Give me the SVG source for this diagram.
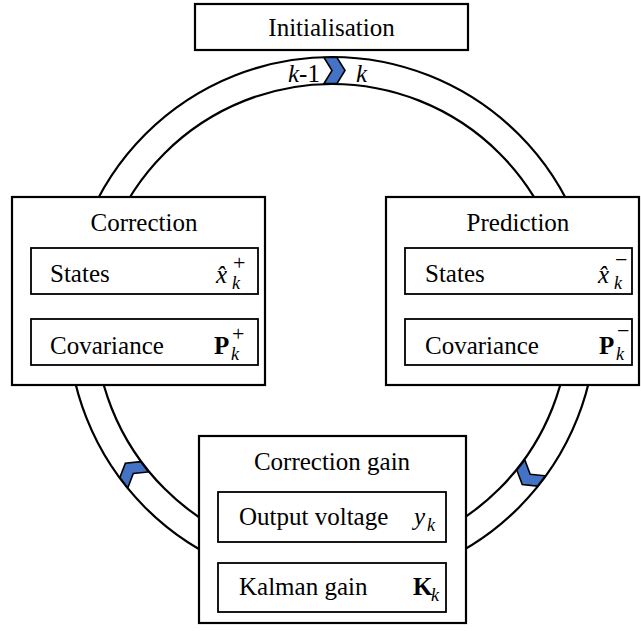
<svg xmlns="http://www.w3.org/2000/svg" width="641" height="631" viewBox="0 0 641 631" font-family="'Liberation Serif', Tinos, 'Times New Roman', 'Nimbus Roman', 'DejaVu Serif', serif">
<defs>
<style>
.box{fill:#fff;stroke:#000;stroke-width:2.2}
.ibox{fill:#fff;stroke:#000;stroke-width:1.8}
.ring{fill:none;stroke:#000;stroke-width:2.2}
.chev{fill:#4472C4;stroke:#000;stroke-width:1.6;stroke-linejoin:miter}
text{font-size:25px;fill:#000}
.h{text-anchor:middle}
.mi{font-style:italic}
.mb{font-weight:bold}
.s{font-size:18px}
.sp{font-size:22px}
</style>
<path id="chv" d="M324,57.5 L337,57.5 L345,70.5 L337,83.5 L324,83.5 L332,70.5 Z"/>
</defs>
<rect width="641" height="631" fill="#fff"/>
<g id="connectors">
<circle class="ring" cx="332" cy="321" r="264"/>
<circle class="ring" cx="332" cy="321" r="237"/>
<use href="#chv" class="chev"/>
<use href="#chv" class="chev" transform="rotate(127.7 332 321)"/>
<use href="#chv" class="chev" transform="rotate(232.5 332 321)"/>
<text x="288" y="82" font-size="24"><tspan class="mi">k</tspan>-1</text>
<text x="356" y="82" font-size="24" class="mi">k</text>
</g>
<g id="initialisation">
<rect class="box" x="195" y="4" width="273" height="46"/>
<text class="h" x="331.5" y="36">Initialisation</text>
</g>
<g id="correction">
<rect class="box" x="12" y="197" width="253" height="188"/>
<text class="h" x="144" y="231">Correction</text>
<rect class="ibox" x="31" y="248" width="227" height="46"/>
<text x="50" y="282">States</text>
<text x="216" y="283" class="mi">x̂</text>
<text x="232" y="289" class="mi s">k</text>
<text x="233" y="270" class="sp">+</text>
<rect class="ibox" x="31" y="319" width="227" height="46"/>
<text x="50" y="354">Covariance</text>
<text x="214" y="354" class="mb">P</text>
<text x="231" y="360" class="mi s">k</text>
<text x="232" y="341" class="sp">+</text>
</g>
<g id="prediction">
<rect class="box" x="386" y="197" width="253" height="188"/>
<text class="h" x="518" y="231">Prediction</text>
<rect class="ibox" x="405" y="248" width="227" height="46"/>
<text x="425" y="282">States</text>
<text x="598" y="283" class="mi">x̂</text>
<text x="614" y="289" class="mi s">k</text>
<text x="615" y="267" class="sp">−</text>
<rect class="ibox" x="405" y="319" width="227" height="46"/>
<text x="425" y="354">Covariance</text>
<text x="599" y="354" class="mb">P</text>
<text x="616" y="360" class="mi s">k</text>
<text x="617" y="338" class="sp">−</text>
</g>
<g id="correction-gain">
<rect class="box" x="199" y="436" width="267" height="187"/>
<text class="h" x="332" y="470">Correction gain</text>
<rect class="ibox" x="218" y="492" width="228" height="50"/>
<text x="239" y="525">Output voltage</text>
<text x="414" y="525" class="mi">y</text>
<text x="427" y="531" class="mi s">k</text>
<rect class="ibox" x="218" y="563" width="228" height="49"/>
<text x="239" y="595">Kalman gain</text>
<text x="413" y="595" class="mb">K</text>
<text x="431" y="601" class="mi s">k</text>
</g>
</svg>
